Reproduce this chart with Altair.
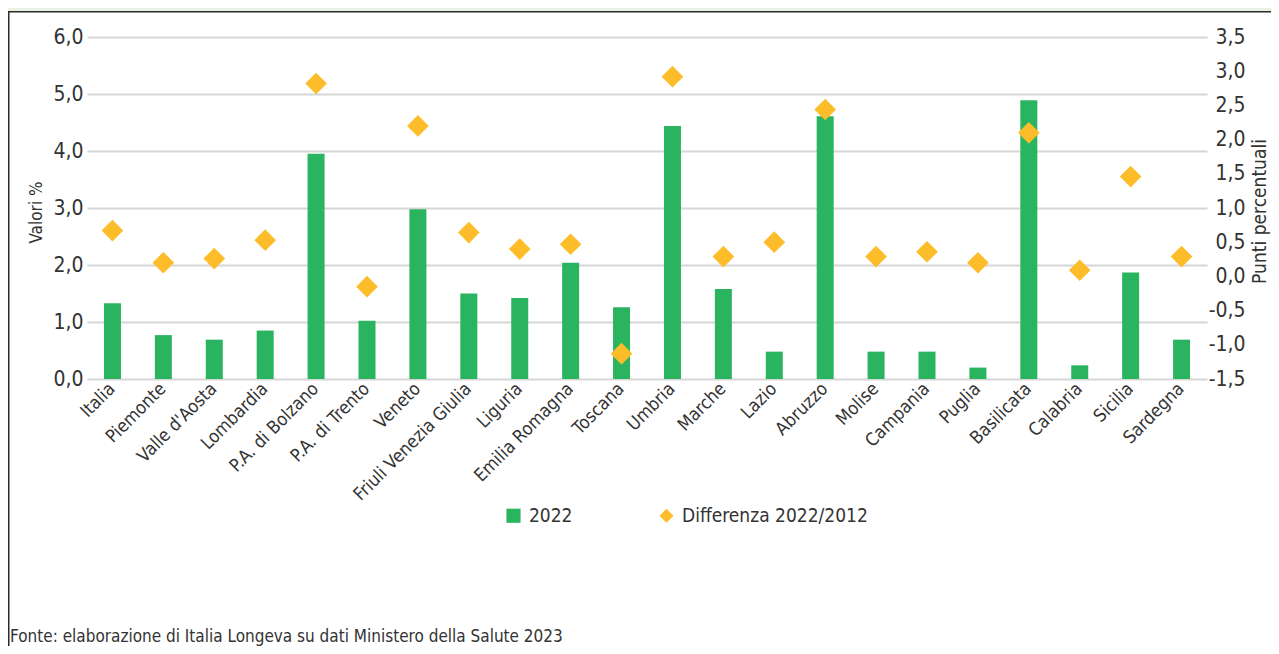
import altair as alt
import pandas as pd

regioni = ["Italia", "Piemonte", "Valle d'Aosta", "Lombardia", "P.A. di Bolzano",
           "P.A. di Trento", "Veneto", "Friuli Venezia Giulia", "Liguria",
           "Emilia Romagna", "Toscana", "Umbria", "Marche", "Lazio", "Abruzzo",
           "Molise", "Campania", "Puglia", "Basilicata", "Calabria", "Sicilia", "Sardegna"]
valori_2022 = [1.33, 0.77, 0.69, 0.85, 3.95, 1.02, 2.98, 1.50, 1.42, 2.04, 1.26,
               4.44, 1.58, 0.48, 4.61, 0.48, 0.48, 0.20, 4.89, 0.24, 1.87, 0.69]
differenza = [0.67, 0.20, 0.26, 0.53, 2.82, -0.15, 2.20, 0.64, 0.40, 0.47, -1.13,
              2.92, 0.29, 0.50, 2.44, 0.29, 0.36, 0.20, 2.10, 0.09, 1.46, 0.29]
serie = ["2022", "Differenza 2022/2012"]
tick_sx = [0, 1, 2, 3, 4, 5, 6]
tick_dx = [-1.5, -1.0, -0.5, 0.0, 0.5, 1.0, 1.5, 2.0, 2.5, 3.0, 3.5]
fonte = "Fonte: elaborazione di Italia Longeva su dati Ministero della Salute 2023"

VERDE = "#2bb45f"
GIALLO = "#fdbd2a"
TESTO = "#333333"
GRIGLIA = "#d6d6d6"
FONT = "Liberation Sans Narrow, DejaVu Sans Condensed, Liberation Sans, sans-serif"

W, H = 1120, 342
PAD = {"left": 79, "top": 29, "right": 64, "bottom": 267}

df = pd.DataFrame({
    "regione": regioni,
    "valore": valori_2022,
    "diff": differenza,
})

fmt = "(datum.value < 0 ? '-' : '') + replace(format(abs(datum.value), '.1f'), '.', ',')"

legenda = alt.Legend(
    title=None, orient="none", direction="horizontal",
    legendX=417, legendY=469, padding=0,
    labelFont=FONT, labelFontSize=19, labelColor=TESTO, labelLimit=0,
    symbolSize=200, symbolStrokeWidth=0, labelOffset=6,
    columnPadding=84,
)

colore = alt.Color(
    "serie:N",
    scale=alt.Scale(domain=serie, range=[VERDE, GIALLO]),
    legend=legenda,
)
forma = alt.Shape(
    "serie:N",
    scale=alt.Scale(domain=serie, range=["square", "diamond"]),
    legend=legenda,
)

x_enc = alt.X(
    "regione:N", sort=regioni,
    scale=alt.Scale(paddingInner=0, paddingOuter=0),
    axis=alt.Axis(
        title=None, labelAngle=-45, labelAlign="right", labelBaseline="middle",
        labelPadding=7, labelFont=FONT, labelFontSize=18, labelColor=TESTO,
        domain=False, ticks=False, grid=False, labelOverlap=False,
    ),
)

one = pd.DataFrame({"k": [0]})

striscia = alt.Chart(one).mark_rect(fill="#eaf2e4").encode(
    x=alt.value(-PAD["left"]), x2=alt.value(W + PAD["right"]),
    y=alt.value(-PAD["top"]), y2=alt.value(-PAD["top"] + 3),
)
cornice = alt.Chart(one).mark_rect(
    fillOpacity=0, stroke="#2a2a2a", strokeWidth=1.5
).encode(
    x=alt.value(-PAD["left"] + 0.75), x2=alt.value(W + 200),
    y=alt.value(-PAD["top"] + 3.75), y2=alt.value(H + 400),
)

barre = alt.Chart(df).transform_calculate(serie="'2022'").mark_bar(
    size=17
).encode(
    x=x_enc,
    y=alt.Y(
        "valore:Q",
        scale=alt.Scale(domain=[0, 6], nice=False, zero=True),
        axis=alt.Axis(
            title="Valori %", values=tick_sx, labelExpr=fmt,
            labelFont=FONT, labelFontSize=21, labelColor=TESTO, labelPadding=4,
            titleFont=FONT, titleFontSize=17, titleFontWeight="normal", titleColor=TESTO,
            titleAngle=270, titleX=-51, titleY=175, titleAlign="center", titleBaseline="middle",
            grid=True, gridColor=GRIGLIA, gridWidth=2,
            domain=False, ticks=False, tickSize=0,
        ),
    ),
    color=colore,
)

punti = alt.Chart(df).transform_calculate(serie="'Differenza 2022/2012'").mark_point(
    filled=True, size=470, opacity=1, strokeWidth=0
).encode(
    x=x_enc,
    y=alt.Y(
        "diff:Q",
        scale=alt.Scale(domain=[-1.5, 3.5], nice=False, zero=False),
        axis=alt.Axis(
            title="Punti percentuali", orient="right", values=tick_dx, labelExpr=fmt,
            labelFont=FONT, labelFontSize=21, labelColor=TESTO,
            labelAlign="right", labelPadding=38,
            titleFont=FONT, titleFontSize=19, titleFontWeight="normal", titleColor=TESTO,
            titleAngle=270, titleX=52, titleY=174, titleAlign="center", titleBaseline="middle",
            grid=False, domain=False, ticks=False, tickSize=0,
        ),
    ),
    color=colore,
    shape=forma,
)

nota = alt.Chart(pd.DataFrame({"t": [fonte]})).mark_text(
    align="left", baseline="middle", font=FONT, fontSize=17, color=TESTO
).encode(
    text="t:N", x=alt.value(-PAD["left"] + 2), y=alt.value(600),
)

chart = alt.layer(striscia, cornice, barre, punti, nota).resolve_scale(
    y="independent"
).properties(
    width=W, height=H,
    padding=PAD,
    autosize=alt.AutoSizeParams(type="none"),
    background="white",
).configure_view(stroke=None)

chart.save("out.html", embed_options={"renderer": "svg", "actions": False})
